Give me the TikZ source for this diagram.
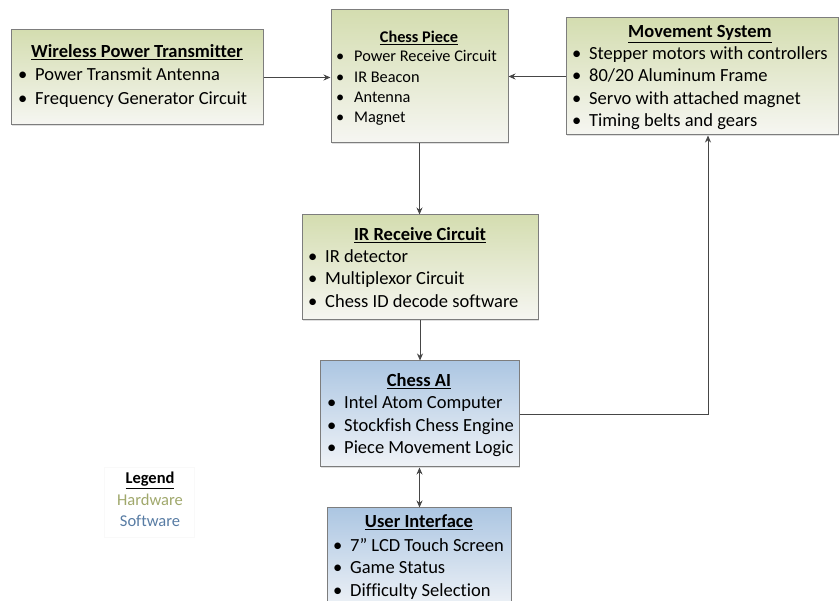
\documentclass[tikz,border=0pt]{standalone}
\usepackage{fontspec}
\setmainfont{Carlito}[Ligatures={NoCommon}]
\usetikzlibrary{arrows.meta,shadows}

\definecolor{hwtop}{RGB}{212,221,176}
\definecolor{hwbot}{RGB}{246,246,242}
\definecolor{swtop}{RGB}{172,198,226}
\definecolor{swbot}{RGB}{240,243,247}
\definecolor{edge}{RGB}{125,125,125}
\definecolor{wire}{RGB}{70,70,70}
\definecolor{hwtext}{RGB}{160,168,108}
\definecolor{swtext}{RGB}{88,124,164}

\tikzset{
  blk/.style={draw=edge, line width=1pt, inner sep=0pt,
    drop shadow={shadow xshift=1.2pt, shadow yshift=-1.2pt, opacity=0.25}},
  hw/.style={blk, top color=hwtop, bottom color=hwbot},
  sw/.style={blk, top color=swtop, bottom color=swbot},
  ttl/.style={font=\fontsize{18.5}{20}\selectfont\bfseries, inner sep=0pt, anchor=base},
  itm/.style={font=\fontsize{18.5}{20}\selectfont, inner sep=0pt, anchor=base west},
  sttl/.style={ttl, font=\fontsize{16.3}{18}\selectfont\bfseries},
  sitm/.style={itm, font=\fontsize{16.3}{18}\selectfont},
  lgt/.style={font=\fontsize{16.5}{18}\selectfont\bfseries, inner sep=0pt, anchor=base},
  lgd/.style={font=\fontsize{16.5}{18}\selectfont, inner sep=0pt, anchor=base},
  arr/.style={draw=wire, line width=0.8pt, -{Stealth[length=7pt,width=6pt]}},
  arr2/.style={draw=wire, line width=0.8pt, {Stealth[length=7pt,width=6pt]}-{Stealth[length=7pt,width=6pt]}},
}
\newcommand{\bul}{\makebox[17pt][l]{•}}
\newcommand{\sbul}{\makebox[18pt][l]{•}}

\begin{document}
\begin{tikzpicture}[x=1pt,y=-1pt]
\useasboundingbox (0,0) rectangle (839,601);
\clip (0,0) rectangle (839,601);

% boxes
\node[hw, minimum width=252pt, minimum height=95pt]  (wpt) at (137,77.5) {};
\node[hw, minimum width=177pt, minimum height=133pt] (cp)  at (419.5,76.5) {};
\node[hw, minimum width=272pt, minimum height=117pt] (ms)  at (702,76.5) {};
\node[hw, minimum width=236pt, minimum height=105pt] (ir)  at (420,267.5) {};
\node[sw, minimum width=199pt, minimum height=106pt] (ai)  at (419.5,414) {};
\node[sw, minimum width=184pt, minimum height=102pt] (ui)  at (419,559) {};

% Wireless Power Transmitter
\node[ttl] (wptT) at (137,58) {\underline{Wireless Power Transmitter}};
\node[itm] (wpt1) at (18,81) {\bul Power Transmit Antenna};
\node[itm] (wpt2) at (18,105) {\bul Frequency Generator Circuit};

% Chess Piece
\node[sttl] (cpT) at (419,43) {\underline{Chess Piece}};
\node[sitm] (cp1) at (336,62) {\sbul Power Receive Circuit};
\node[sitm] (cp2) at (336,83) {\sbul IR Beacon};
\node[sitm] (cp3) at (336,103) {\sbul Antenna};
\node[sitm] (cp4) at (336,123) {\sbul Magnet};

% Movement System
\node[ttl] (msT) at (700,38) {\underline{Movement System}};
\node[itm] (ms1) at (572,60) {\bul Stepper motors with controllers};
\node[itm] (ms2) at (572,82) {\bul 80/20 Aluminum Frame};
\node[itm] (ms3) at (572,105) {\bul Servo with attached magnet};
\node[itm] (ms4) at (572,127) {\bul Timing belts and gears};

% IR Receive Circuit
\node[ttl] (irT) at (420,241) {\underline{IR Receive Circuit}};
\node[itm] (ir1) at (308,263) {\bul IR detector};
\node[itm] (ir2) at (308,285) {\bul Multiplexor Circuit};
\node[itm] (ir3) at (308,308) {\bul Chess ID decode software};

% Chess AI
\node[ttl] (aiT) at (419,387) {\underline{Chess AI}};
\node[itm] (ai1) at (327,409) {\bul Intel Atom Computer};
\node[itm] (ai2) at (327,432) {\bul Stockfish Chess Engine};
\node[itm] (ai3) at (327,454) {\bul Piece Movement Logic};

% User Interface
\node[ttl] (uiT) at (419,528) {\underline{User Interface}};
\node[itm] (ui1) at (333,552) {\bul 7\symbol{34} LCD Touch Screen};
\node[itm] (ui2) at (333,574) {\bul Game Status};
\node[itm] (ui3) at (333,597) {\bul Difficulty Selection};

% legend
\node[draw=gray!5, fill=white, minimum width=90pt, minimum height=70pt] (lg) at (149,502) {};
\node[lgt] (lgT) at (150,484) {\underline{Legend}};
\node[lgd, text=hwtext] (lgH) at (150,506) {Hardware};
\node[lgd, text=swtext] (lgS) at (150,527) {Software};

% connectors
\draw[arr] (wpt.east) -- (wpt.east -| cp.west);
\draw[arr] (ms.west) -- (ms.west -| cp.east);
\draw[arr] (cp.south) -- (cp.south |- ir.north);
\draw[arr] (ir.south) -- (ir.south |- ai.north);
\coordinate (msIn) at ([xshift=6pt]ms.south);
\draw[arr] (ai.east) -| (msIn);
\draw[arr2] (ai.south) -- (ai.south |- ui.north);
\end{tikzpicture}
\end{document}
